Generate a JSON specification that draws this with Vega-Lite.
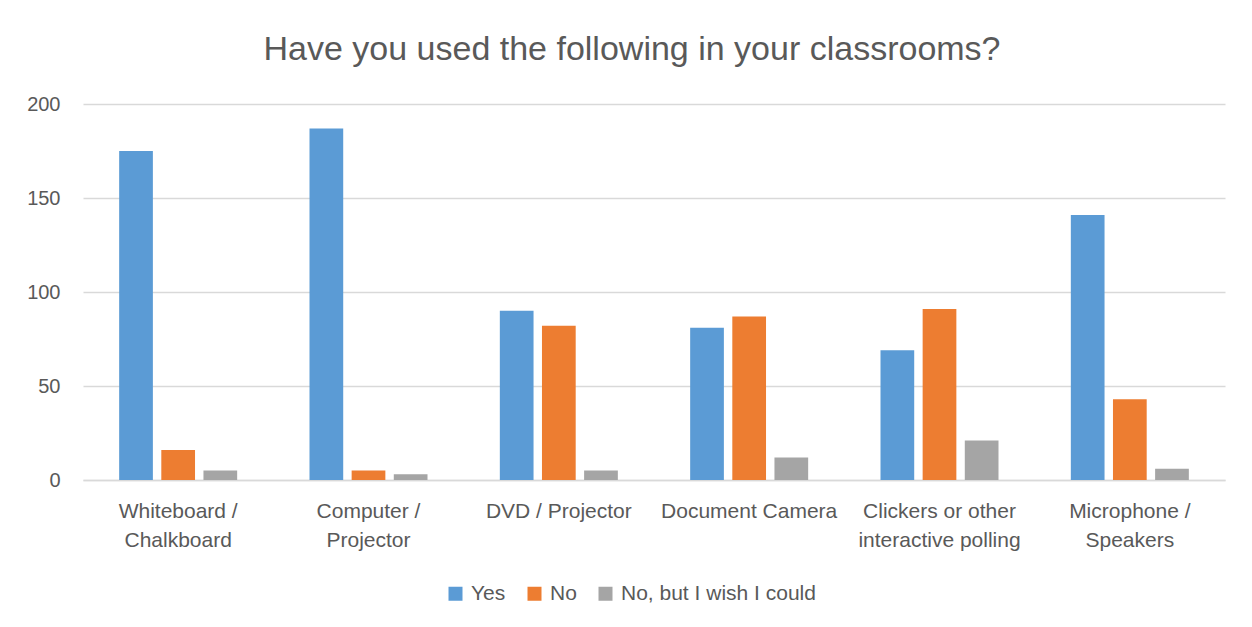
{
  "$schema": "https://vega.github.io/schema/vega-lite/v6.json",
  "autosize": {"type": "none"},
  "width": 1142,
  "height": 376,
  "padding": {"left": 83, "top": 104, "right": 27, "bottom": 147},
  "background": "white",
  "title": {
    "text": "Have you used the following in your classrooms?",
    "anchor": "middle",
    "dx": -22,
    "offset": 27,
    "font": "Liberation Sans",
    "fontSize": 34,
    "fontWeight": "normal",
    "color": "#595959"
  },
  "data": {
    "values": [
      {"item": "Whiteboard / Chalkboard", "answer": "Yes", "count": 175},
      {"item": "Whiteboard / Chalkboard", "answer": "No", "count": 16},
      {"item": "Whiteboard / Chalkboard", "answer": "No, but I wish I could", "count": 5},
      {"item": "Computer / Projector", "answer": "Yes", "count": 187},
      {"item": "Computer / Projector", "answer": "No", "count": 5},
      {"item": "Computer / Projector", "answer": "No, but I wish I could", "count": 3},
      {"item": "DVD / Projector", "answer": "Yes", "count": 90},
      {"item": "DVD / Projector", "answer": "No", "count": 82},
      {"item": "DVD / Projector", "answer": "No, but I wish I could", "count": 5},
      {"item": "Document Camera", "answer": "Yes", "count": 81},
      {"item": "Document Camera", "answer": "No", "count": 87},
      {"item": "Document Camera", "answer": "No, but I wish I could", "count": 12},
      {"item": "Clickers or other interactive polling", "answer": "Yes", "count": 69},
      {"item": "Clickers or other interactive polling", "answer": "No", "count": 91},
      {"item": "Clickers or other interactive polling", "answer": "No, but I wish I could", "count": 21},
      {"item": "Microphone / Speakers", "answer": "Yes", "count": 141},
      {"item": "Microphone / Speakers", "answer": "No", "count": 43},
      {"item": "Microphone / Speakers", "answer": "No, but I wish I could", "count": 6}
    ]
  },
  "mark": {"type": "bar"},
  "encoding": {
    "x": {
      "field": "item",
      "type": "nominal",
      "sort": ["Whiteboard / Chalkboard", "Computer / Projector", "DVD / Projector", "Document Camera", "Clickers or other interactive polling", "Microphone / Speakers"],
      "scale": {"paddingInner": 0.38, "paddingOuter": 0.19},
      "axis": {
        "title": null,
        "labelAngle": 0,
        "ticks": false,
        "tickSize": 0,
        "domainColor": "#d9d9d9",
        "domainWidth": 1.5,
        "labelFont": "Liberation Sans",
        "labelFontSize": 21,
        "labelColor": "#595959",
        "labelPadding": 20,
        "labelLineHeight": 29,
        "labelLimit": 300,
        "labelExpr": "datum.label == 'Whiteboard / Chalkboard' ? ['Whiteboard /', 'Chalkboard'] : datum.label == 'Computer / Projector' ? ['Computer /', 'Projector'] : datum.label == 'Clickers or other interactive polling' ? ['Clickers or other', 'interactive polling'] : datum.label == 'Microphone / Speakers' ? ['Microphone /', 'Speakers'] : datum.label"
      }
    },
    "xOffset": {
      "field": "answer",
      "type": "nominal",
      "sort": ["Yes", "No", "No, but I wish I could"],
      "scale": {"paddingInner": 0.2, "paddingOuter": 0}
    },
    "y": {
      "field": "count",
      "type": "quantitative",
      "scale": {"domain": [0, 200], "nice": false},
      "axis": {
        "title": null,
        "values": [0, 50, 100, 150, 200],
        "domain": false,
        "ticks": false,
        "tickSize": 0,
        "gridColor": "#d9d9d9",
        "gridWidth": 1.5,
        "labelFont": "Liberation Sans",
        "labelFontSize": 20,
        "labelColor": "#595959",
        "labelPadding": 23
      }
    },
    "color": {
      "field": "answer",
      "type": "nominal",
      "sort": ["Yes", "No", "No, but I wish I could"],
      "scale": {"domain": ["Yes", "No", "No, but I wish I could"], "range": ["#5b9bd5", "#ed7d31", "#a5a5a5"]},
      "legend": {
        "title": null,
        "orient": "none",
        "direction": "horizontal",
        "legendX": 362,
        "legendY": 479,
        "symbolType": "square",
        "symbolSize": 196,
        "symbolStrokeWidth": 0,
        "symbolOpacity": 1,
        "labelFont": "Liberation Sans",
        "labelFontSize": 21,
        "labelColor": "#595959",
        "labelOffset": 5,
        "labelLimit": 400,
        "columnPadding": 18
      }
    }
  },
  "config": {
    "view": {"stroke": null},
    "axis": {"gridOpacity": 1}
  }
}
